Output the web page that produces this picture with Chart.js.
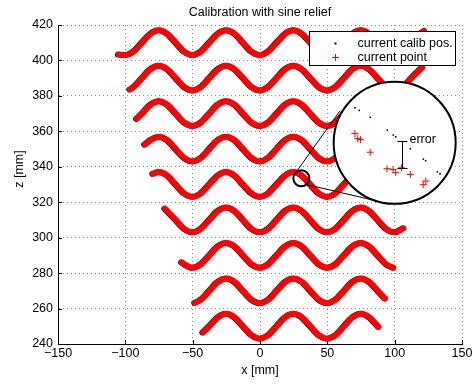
<!DOCTYPE html>
<html>
<head>
<meta charset="utf-8">
<script src="https://cdn.jsdelivr.net/npm/chart.js@4"></script>
<style>
  html, body { margin: 0; padding: 0; background: #fff; }
  canvas { display: block; }
</style>
</head>
<body>
<canvas id="calibChart" width="476" height="384"></canvas>
<script>
// axis ticks
const xTicks = [-150, -100, -50, 0, 50, 100, 150];
const zTicks = [240, 260, 280, 300, 320, 340, 360, 380, 400, 420];

// sine relief rows, [x, z] in mm, every 6.25 mm
const row410 = [[-105, 403.3], [-100, 403], [-93.75, 405], [-87.5, 410], [-81.25, 415], [-75, 417], [-68.75, 415], [-62.5, 410], [-56.25, 405], [-50, 403], [-43.75, 405], [-37.5, 410], [-31.25, 415], [-25, 417], [-18.75, 415], [-12.5, 410], [-6.25, 405], [0, 403], [6.25, 405], [12.5, 410], [18.75, 415], [25, 417], [31.25, 415], [37.5, 410], [43.75, 405], [50, 403], [56.25, 405], [62.5, 410], [68.75, 415], [75, 417], [81.25, 415], [87.5, 410], [93.75, 405], [100, 403], [106.25, 405], [112.5, 410], [118.75, 415], [122, 416.6]];
const row390 = [[-96.5, 383.6], [-93.75, 385], [-87.5, 390], [-81.25, 395], [-75, 397], [-68.75, 395], [-62.5, 390], [-56.25, 385], [-50, 383], [-43.75, 385], [-37.5, 390], [-31.25, 395], [-25, 397], [-18.75, 395], [-12.5, 390], [-6.25, 385], [0, 383], [6.25, 385], [12.5, 390], [18.75, 395], [25, 397], [31.25, 395], [37.5, 390], [43.75, 385], [50, 383], [56.25, 385], [62.5, 390], [68.75, 395], [75, 397], [81.25, 395], [87.5, 390], [93.75, 385], [100, 383], [106.25, 385], [112.5, 390], [120.5, 396]];
const row370 = [[-91.5, 367], [-87.5, 370], [-81.25, 375], [-75, 377], [-68.75, 375], [-62.5, 370], [-56.25, 365], [-50, 363], [-43.75, 365], [-37.5, 370], [-31.25, 375], [-25, 377], [-18.75, 375], [-12.5, 370], [-6.25, 365], [0, 363], [6.25, 365], [12.5, 370], [18.75, 375], [25, 377], [31.25, 375], [37.5, 370], [43.75, 365], [50, 363], [56.25, 365], [62.5, 370], [68.75, 375], [75, 377], [81.25, 375], [87.5, 370], [93.75, 365], [100, 363], [106.25, 365], [112.5, 370], [115, 372]];
const row350 = [[-85.5, 352.5], [-81.25, 355], [-75, 357], [-68.75, 355], [-62.5, 350], [-56.25, 345], [-50, 343], [-43.75, 345], [-37.5, 350], [-31.25, 355], [-25, 357], [-18.75, 355], [-12.5, 350], [-6.25, 345], [0, 343], [6.25, 345], [12.5, 350], [18.75, 355], [25, 357], [31.25, 355], [37.5, 350], [43.75, 345], [50, 343], [56.25, 345], [62.5, 350], [68.75, 355], [75, 357], [81.25, 355], [87.5, 350], [93.75, 345], [100, 343], [106.25, 345], [110, 348]];
const row330 = [[-79.5, 336], [-75, 337], [-68.75, 335], [-62.5, 330], [-56.25, 325], [-50, 323], [-43.75, 325], [-37.5, 330], [-31.25, 335], [-25, 337], [-18.75, 335], [-12.5, 330], [-6.25, 325], [0, 323], [6.25, 325], [12.5, 330], [18.75, 335], [25, 337], [31.25, 335], [37.5, 330], [43.75, 325], [50, 323], [56.25, 325], [62.5, 330], [68.75, 335], [75, 337], [81.25, 335], [87.5, 330], [93.75, 325], [100, 323], [105, 324.5]];
const row310 = [[-70.5, 316.3], [-62.5, 310], [-56.25, 305], [-50, 303], [-43.75, 305], [-37.5, 310], [-31.25, 315], [-25, 317], [-18.75, 315], [-12.5, 310], [-6.25, 305], [0, 303], [6.25, 305], [12.5, 310], [18.75, 315], [25, 317], [31.25, 315], [37.5, 310], [43.75, 305], [50, 303], [56.25, 305], [62.5, 310], [68.75, 315], [75, 317], [81.25, 315], [87.5, 310], [93.75, 305], [100, 303], [106.5, 305.3]];
const row290 = [[-58, 286], [-56.25, 285], [-50, 283], [-43.75, 285], [-37.5, 290], [-31.25, 295], [-25, 297], [-18.75, 295], [-12.5, 290], [-6.25, 285], [0, 283], [6.25, 285], [12.5, 290], [18.75, 295], [25, 297], [31.25, 295], [37.5, 290], [43.75, 285], [50, 283], [56.25, 285], [62.5, 290], [68.75, 295], [75, 297], [81.25, 295], [87.5, 290], [93.75, 285], [99, 283]];
const row270 = [[-48.3, 263.2], [-43.75, 265], [-37.5, 270], [-31.25, 275], [-25, 277], [-18.75, 275], [-12.5, 270], [-6.25, 265], [0, 263], [6.25, 265], [12.5, 270], [18.75, 275], [25, 277], [31.25, 275], [37.5, 270], [43.75, 265], [50, 263], [56.25, 265], [62.5, 270], [68.75, 275], [75, 277], [81.25, 275], [87.5, 270], [92.8, 265.7]];
const row250 = [[-42.3, 246.5], [-37.5, 250], [-31.25, 255], [-25, 257], [-18.75, 255], [-12.5, 250], [-6.25, 245], [0, 243], [6.25, 245], [12.5, 250], [18.75, 255], [25, 257], [31.25, 255], [37.5, 250], [43.75, 245], [50, 243], [56.25, 245], [62.5, 250], [68.75, 255], [75, 257], [81.25, 255], [88, 249.7]];
const rows = [row410, row390, row370, row350, row330, row310, row290, row270, row250];

// magnified view: points as they sit on the plot (mm)
const lensCalibX = [70.5, 73.7, 81.9, 94.5, 99.0, 100.8, 111.6, 121.3, 123.0, 131.7, 133.7];
const lensCalibZ = [373.3, 371.8, 367.9, 360.7, 357.9, 356.9, 350.1, 344.3, 343.4, 337.1, 336.0];
const lensPointX = [70.5, 72.6, 74.6, 81.8, 94.3, 98.8, 100.8, 105.1, 111.6, 123.1, 121.2];
const lensPointZ = [358.7, 355.9, 355.3, 348.2, 338.9, 338.5, 336.7, 339.4, 335.7, 331.9, 329.9];
const lensCenter = [100.0, 353.5];
const spotCenter = [30.7, 333.5];
const lensLinks = [[[27.7, 337.9], [59.4, 371.6]], [[33.4, 330.2], [90.6, 320.0]]];
const errorBar = { x: 105.4, from: 354.5, to: 339.4 };

const FONT = 'Liberation Sans, Arial, Helvetica, sans-serif';
Chart.defaults.font.family = FONT;
Chart.defaults.font.size = 12.5;
Chart.defaults.color = '#000';

const datasets = [];
rows.forEach(r => {
    datasets.push({
        label: 'current calib pos.', data: r, pointRadius: 0,
        borderColor: '#000', borderWidth: 5.5, cubicInterpolationMode: 'monotone',
        borderCapStyle: 'round', borderJoinStyle: 'round', order: 3, shiftPx: -0.9
    });
    datasets.push({
        label: 'current point', data: r, pointRadius: 0,
        borderColor: '#ff0000', borderWidth: 6, cubicInterpolationMode: 'monotone',
        borderCapStyle: 'round', borderJoinStyle: 'round', order: 2
    });
});
datasets.push({
    label: 'lens calib', data: lensCalibX.map((x, i) => ({ x, y: lensCalibZ[i] })), showLine: false,
    pointStyle: 'rect', pointRadius: 1.1, pointBackgroundColor: '#000', pointBorderWidth: 0,
    order: 1, lensStart: true
});
datasets.push({
    label: 'lens point', data: lensPointX.map((x, i) => ({ x, y: lensPointZ[i] })), showLine: false,
    pointStyle: 'cross', pointRadius: 3.5, pointBorderColor: '#ff0000', pointBorderWidth: 1,
    order: 0
});

const shiftPlugin = {
    id: 'shift',
    beforeDatasetDraw(chart, args) {
        const ds = chart.data.datasets[args.index];
        if (ds.shiftPx) { chart.ctx.save(); chart.ctx.translate(ds.shiftPx, 0); }
    },
    afterDatasetDraw(chart, args) {
        if (chart.data.datasets[args.index].shiftPx) chart.ctx.restore();
    }
};

const lensPlugin = {
    id: 'lens',
    beforeDatasetDraw(chart, args) {
        if (!chart.data.datasets[args.index].lensStart) return;
        const { ctx, scales: { x, y } } = chart;
        const px = p => [x.getPixelForValue(p[0]), y.getPixelForValue(p[1])];
        ctx.save();
        ctx.strokeStyle = '#000';
        ctx.lineWidth = 1;
        lensLinks.forEach(([a, b]) => {
            const pa = px(a), pb = px(b);
            ctx.beginPath(); ctx.moveTo(pa[0], pa[1]); ctx.lineTo(pb[0], pb[1]); ctx.stroke();
        });
        ctx.lineWidth = 2;
        const s = px(spotCenter);
        ctx.beginPath(); ctx.arc(s[0], s[1], 8, 0, Math.PI * 2); ctx.stroke();
        const c = px(lensCenter);
        ctx.beginPath(); ctx.arc(c[0], c[1], 61, 0, Math.PI * 2);
        ctx.fillStyle = '#fff'; ctx.fill(); ctx.stroke();
        ctx.restore();
    },
    afterDatasetsDraw(chart) {
        const { ctx, scales: { x, y } } = chart;
        const ex = Math.round(x.getPixelForValue(errorBar.x)) + 0.5;
        const y1 = Math.round(y.getPixelForValue(errorBar.from)) + 0.5;
        const y2 = Math.round(y.getPixelForValue(errorBar.to)) + 0.5;
        ctx.save();
        ctx.strokeStyle = '#000';
        ctx.lineWidth = 1;
        ctx.beginPath();
        ctx.moveTo(ex, y1); ctx.lineTo(ex, y2);
        ctx.moveTo(ex - 5, y1); ctx.lineTo(ex + 5, y1);
        ctx.moveTo(ex - 5, y2); ctx.lineTo(ex + 5, y2);
        ctx.stroke();
        ctx.fillStyle = '#000';
        ctx.font = '12.5px ' + FONT;
        ctx.textAlign = 'left';
        ctx.textBaseline = 'middle';
        ctx.fillText('error', ex + 7, y1 - 2);
        ctx.restore();
    }
};

const decorPlugin = {
    id: 'decor',
    afterDraw(chart) {
        const { ctx, chartArea: a, scales: { x, y } } = chart;
        ctx.save();
        // inward ticks
        ctx.strokeStyle = '#000';
        ctx.lineWidth = 1;
        ctx.beginPath();
        x.ticks.forEach(t => {
            const p = Math.round(x.getPixelForValue(t.value)) + 0.5;
            ctx.moveTo(p, a.bottom); ctx.lineTo(p, a.bottom - 4);
        });
        y.ticks.forEach(t => {
            const p = Math.round(y.getPixelForValue(t.value)) + 0.5;
            ctx.moveTo(a.left, p); ctx.lineTo(a.left + 4, p);
        });
        ctx.stroke();

        // y axis title
        ctx.fillStyle = '#000';
        ctx.font = '12.5px ' + FONT;
        ctx.save();
        ctx.translate(20, 169);
        ctx.rotate(-Math.PI / 2);
        ctx.textAlign = 'center';
        ctx.textBaseline = 'middle';
        ctx.fillText('z [mm]', 0, 0);
        ctx.restore();

        // legend box
        const lx = a.right - 152.5, ly = a.top + 6.5;
        ctx.fillStyle = '#fff';
        ctx.fillRect(lx, ly, 146, 34);
        ctx.strokeRect(lx, ly, 146, 34);
        ctx.fillStyle = '#000';
        ctx.fillRect(lx + 25, ly + 11, 2, 2);
        ctx.strokeStyle = '#ff0000';
        ctx.beginPath();
        ctx.moveTo(lx + 22.5, ly + 26); ctx.lineTo(lx + 29.5, ly + 26);
        ctx.moveTo(lx + 26, ly + 22.5); ctx.lineTo(lx + 26, ly + 29.5);
        ctx.stroke();
        ctx.textAlign = 'left';
        ctx.textBaseline = 'middle';
        ctx.fillText('current calib pos.', lx + 48, ly + 12);
        ctx.fillText('current point', lx + 48, ly + 26);
        ctx.restore();
    }
};

new Chart(document.getElementById('calibChart'), {
    type: 'line',
    data: { datasets },
    options: {
        responsive: false,
        animation: false,
        events: [],
        layout: { padding: { left: 0, right: 14, top: 0, bottom: 0 } },
        plugins: {
            legend: { display: false },
            tooltip: { enabled: false },
            title: {
                display: true, fullSize: false, text: 'Calibration with sine relief',
                color: '#000', font: { size: 12.5, weight: 'normal' },
                padding: { top: 4.8, bottom: 5.2 }
            }
        },
        scales: {
            x: {
                type: 'linear', min: -150, max: 150,
                afterBuildTicks: s => { s.ticks = xTicks.map(v => ({ value: v })); },
                afterFit: s => { s.height = 40; },
                ticks: { padding: 2, color: '#000', callback: v => String(v).replace('-', '\u2212') },
                grid: { color: '#8c8c8c', drawTicks: false },
                border: { color: '#000', width: 1, dash: [1, 3] },
                title: { display: true, text: 'x [mm]', color: '#000', padding: { top: 0, bottom: 6 } }
            },
            y: {
                type: 'linear', min: 240, max: 420,
                afterBuildTicks: s => { s.ticks = zTicks.map(v => ({ value: v })); },
                afterFit: s => { s.width = 58; },
                ticks: { padding: 5, color: '#000' },
                grid: { color: '#8c8c8c', drawTicks: false },
                border: { color: '#000', width: 1, dash: [1, 3] }
            }
        }
    },
    plugins: [shiftPlugin, lensPlugin, decorPlugin]
});
</script>
</body>
</html>
